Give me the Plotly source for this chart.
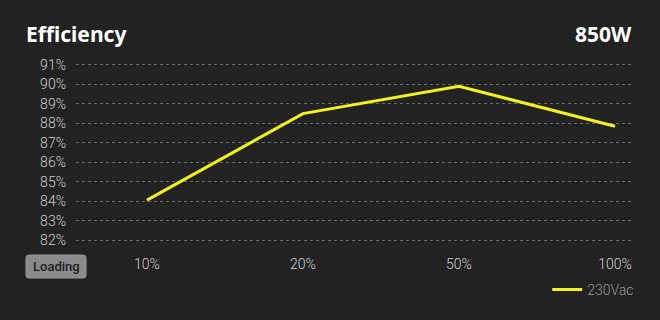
import plotly.graph_objects as go

loads = ["10%", "20%", "50%", "100%"]
eff_230 = [84.05, 88.5, 89.9, 87.85]
y_ticks = [82, 83, 84, 85, 86, 87, 88, 89, 90, 91]
y_labels = [f"{v}%" for v in y_ticks]

W, H = 660, 320
ML, MR, MT, MB = 76, 28, 55, 70
PW, PH = W - ML - MR, H - MT - MB


def px(xp):
    return (xp - ML) / PW


def py(yp):
    return (H - MB - yp) / PH


fig = go.Figure()
fig.add_trace(go.Scatter(
    x=list(range(len(loads))), y=eff_230, mode="lines", name="230Vac",
    line=dict(color="#f2f21f", width=3),
))

tick_font = dict(family="Roboto", color="#d0d0d0", size=14, weight=300)

fig.update_layout(
    width=W, height=H,
    paper_bgcolor="#222222", plot_bgcolor="#222222",
    margin=dict(l=ML, r=MR, t=MT, b=MB, autoexpand=False),
    font=dict(family="Roboto", color="#cccccc", size=13),
    showlegend=True,
    legend=dict(orientation="h", x=1.013, xanchor="right", yref="container",
                y=0.094, yanchor="middle", itemwidth=30,
                font=dict(family="Roboto", color="#999999", size=14, weight=300),
                bgcolor="rgba(0,0,0,0)"),
    xaxis=dict(
        tickmode="array", tickvals=list(range(len(loads))), ticktext=loads,
        range=[-0.455, 3.109], showgrid=False, zeroline=False, showline=False,
        tickfont=tick_font, ticks="", ticklabelstandoff=4,
    ),
    yaxis=dict(
        tickmode="array", tickvals=y_ticks, ticktext=y_labels,
        range=[81.49, 91.51], showgrid=True, gridcolor="#6a6a6a", griddash="dot",
        gridwidth=1, zeroline=False, showline=False, ticks="", ticklabelstandoff=9,
        tickfont=tick_font,
    ),
)

# Loading button (rounded rectangle)
x0, x1, y0, y1, r = 26, 86, 255, 278, 3
path = (f"M {px(x0 + r)},{py(y0)} L {px(x1 - r)},{py(y0)} "
        f"Q {px(x1)},{py(y0)} {px(x1)},{py(y0 + r)} L {px(x1)},{py(y1 - r)} "
        f"Q {px(x1)},{py(y1)} {px(x1 - r)},{py(y1)} L {px(x0 + r)},{py(y1)} "
        f"Q {px(x0)},{py(y1)} {px(x0)},{py(y1 - r)} L {px(x0)},{py(y0 + r)} "
        f"Q {px(x0)},{py(y0)} {px(x0 + r)},{py(y0)} Z")
fig.add_shape(type="path", path=path, xref="paper", yref="paper",
              fillcolor="#8a8a8a", line=dict(color="#9a9a9a", width=1))
fig.add_annotation(text="Loading", xref="paper", yref="paper",
                   x=px((x0 + x1) / 2), y=py((y0 + y1) / 2), xanchor="center",
                   yanchor="middle", showarrow=False,
                   font=dict(family="Roboto", size=13, color="#1e1e1e", weight=500))

fig.add_annotation(text="<b>Efficiency</b>", xref="paper", yref="paper",
                   x=px(24), y=py(34), xanchor="left", yanchor="middle",
                   showarrow=False,
                   font=dict(family="Noto Sans", size=21, color="#ffffff"))
fig.add_annotation(text="<b>850W</b>", xref="paper", yref="paper",
                   x=px(634), y=py(34), xanchor="right", yanchor="middle",
                   showarrow=False,
                   font=dict(family="Noto Sans", size=21, color="#ffffff"))

fig.write_html("out.html")
